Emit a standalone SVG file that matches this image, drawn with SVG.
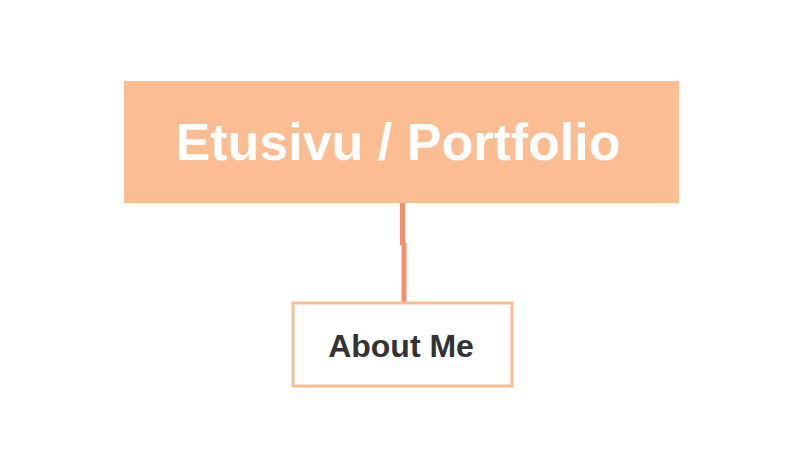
<svg xmlns="http://www.w3.org/2000/svg" width="803" height="468" viewBox="0 0 803 468">
<style>
.title{font-family:"Liberation Sans",Arial,sans-serif;font-weight:bold;font-size:52px;fill:#ffffff;text-anchor:middle}
.label{font-family:"Liberation Sans",Arial,sans-serif;font-weight:bold;font-size:32px;fill:#333333;text-anchor:middle}
.conn{fill:none;stroke:#f78d6c;stroke-width:5}
</style>
<rect width="803" height="468" fill="#ffffff"/>
<g id="connectors">
<path class="conn" d="M402.5 203 V245 M404 243 V302"/>
</g>
<g id="node-root">
<rect x="124" y="81" width="555" height="122" fill="#fdbd93"/>
<text class="title" x="398" y="160">Etusivu / Portfolio</text>
</g>
<g id="node-about">
<rect x="293" y="303" width="219" height="83" fill="#ffffff" stroke="#fdbd93" stroke-width="3"/>
<text class="label" x="401" y="357">About Me</text>
</g>
</svg>
